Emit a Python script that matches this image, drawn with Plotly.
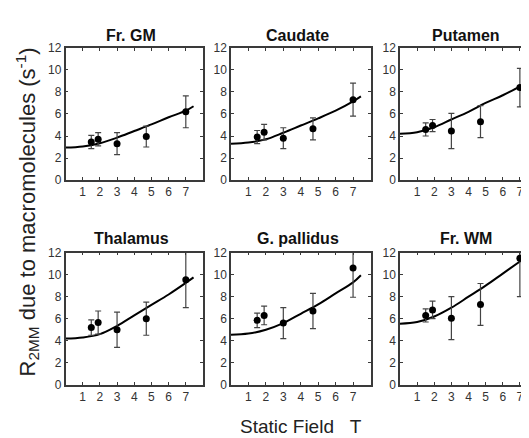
import plotly.graph_objects as go

# ---------------- data ----------------
panel_titles = ["Fr. GM", "Caudate", "Putamen", "Thalamus", "G. pallidus", "Fr. WM"]
field_T = [1.5, 1.9, 3.0, 4.7, 7.0]
fit_field = [0, 1, 2, 3, 4, 5, 6, 7, 7.45]
x_ticks = [1, 2, 3, 4, 5, 6, 7]
y_ticks = [0, 2, 4, 6, 8, 10, 12]

frgm_r2 = [3.45, 3.7, 3.3, 3.95, 6.2]
frgm_err = [0.6, 0.6, 1.0, 0.95, 1.45]
frgm_fit = [2.95, 3.05, 3.35, 3.85, 4.45, 5.05, 5.7, 6.3, 6.7]

caudate_r2 = [3.9, 4.35, 3.8, 4.65, 7.3]
caudate_err = [0.6, 0.7, 0.95, 1.0, 1.5]
caudate_fit = [3.3, 3.4, 3.7, 4.3, 4.95, 5.6, 6.3, 7.15, 7.6]

putamen_r2 = [4.6, 4.95, 4.45, 5.3, 8.4]
putamen_err = [0.6, 0.55, 1.6, 1.45, 1.75]
putamen_fit = [4.2, 4.35, 4.8, 5.5, 6.2, 7.0, 7.7, 8.5, 9.0]

thalamus_r2 = [5.2, 5.65, 5.0, 6.0, 9.55]
thalamus_err = [0.7, 1.05, 1.6, 1.5, 2.55]
thalamus_fit = [4.2, 4.3, 4.6, 5.35, 6.3, 7.25, 8.2, 9.25, 9.75]

gpallidus_r2 = [5.85, 6.3, 5.6, 6.7, 10.6]
gpallidus_err = [0.65, 0.85, 1.4, 1.6, 2.65]
gpallidus_fit = [4.55, 4.65, 5.0, 5.6, 6.45, 7.3, 8.3, 9.3, 9.95]

frwm_r2 = [6.3, 6.8, 6.05, 7.3, 11.5]
frwm_err = [0.6, 0.8, 1.95, 1.9, 3.5]
frwm_fit = [5.55, 5.7, 6.2, 7.0, 8.0, 9.0, 10.1, 11.2, 11.7]

measured = [frgm_r2, caudate_r2, putamen_r2, thalamus_r2, gpallidus_r2, frwm_r2]
errors = [frgm_err, caudate_err, putamen_err, thalamus_err, gpallidus_err, frwm_err]
fits = [frgm_fit, caudate_fit, putamen_fit, thalamus_fit, gpallidus_fit, frwm_fit]

# ---------------- layout geometry ----------------
W, H = 529, 438
col_px = [(57.5, 195.0), (223.0, 362.5), (392.0, 529.0)]
row_px = [(34.0, 170.5), (245.5, 382.0)]
title_y_px = [21, 231]

fig = go.Figure()
font_tick = dict(family="Liberation Sans, Arial, sans-serif", size=12, color="#333")
axis_col = "#3a3a3a"

for i, name in enumerate(panel_titles):
    r, c = divmod(i, 3)
    n = i + 1
    xa = "x" if n == 1 else f"x{n}"
    ya = "y" if n == 1 else f"y{n}"
    fig.add_trace(go.Scatter(
        x=fit_field, y=fits[i], mode="lines", line=dict(color="black", width=2, shape="spline"),
        xaxis=xa, yaxis=ya, showlegend=False, hoverinfo="skip"))
    fig.add_trace(go.Scatter(
        x=field_T, y=measured[i], mode="markers",
        marker=dict(color="black", size=7),
        error_y=dict(type="data", array=errors[i], visible=True, color="#444", thickness=1.2, width=3),
        xaxis=xa, yaxis=ya, showlegend=False))

    x0, x1 = col_px[c]
    yt, yb = row_px[r]
    xkey = "xaxis" if n == 1 else f"xaxis{n}"
    ykey = "yaxis" if n == 1 else f"yaxis{n}"
    fig.update_layout(**{
        xkey: dict(domain=[x0 / W, min(x1 / W, 1.0)], range=[0, 8], anchor=ya,
                   tickvals=x_ticks, ticks="inside", ticklen=3, tickcolor=axis_col,
                   showline=True, linecolor=axis_col, linewidth=1.5, mirror="ticks",
                   showgrid=False, zeroline=False, tickfont=font_tick, fixedrange=True),
        ykey: dict(domain=[1 - yb / H, 1 - yt / H], range=[0, 12], anchor=xa,
                   tickvals=y_ticks, ticks="inside", ticklen=3, tickcolor=axis_col,
                   showline=True, linecolor=axis_col, linewidth=1.5,
                   mirror=("ticks" if c < 2 else False),
                   showgrid=False, zeroline=False, tickfont=font_tick, fixedrange=True),
    })
    fig.add_annotation(
        text=f"<b>{name}</b>", xref="paper", yref="paper",
        x=((x0 + min(x1, 530)) / 2 - 3) / W, y=1 - title_y_px[r] / H,
        xanchor="center", yanchor="middle", showarrow=False,
        font=dict(family="Liberation Sans Narrow, Arial Narrow, Liberation Sans, Arial, sans-serif",
                  size=16, color="#111"))

fig.add_annotation(
    text="R<sub>2MM</sub> due to macromolecules (s<sup>-1</sup>)",
    xref="paper", yref="paper", x=19 / W, y=1 - 204 / H, textangle=-90,
    xanchor="center", yanchor="middle", showarrow=False,
    font=dict(family="Liberation Sans, Arial, sans-serif", size=22, color="#222"))
fig.add_annotation(
    text="Static Field\u00a0\u00a0\u00a0T",
    xref="paper", yref="paper", x=292.5 / W, y=1 - 425 / H,
    xanchor="center", yanchor="middle", showarrow=False,
    font=dict(family="Liberation Sans, Arial, sans-serif", size=19, color="#222"))

fig.update_layout(width=W, height=H, margin=dict(l=0, r=0, t=0, b=0, pad=0),
                  paper_bgcolor="white", plot_bgcolor="white", showlegend=False)

fig.write_html("out.html")
